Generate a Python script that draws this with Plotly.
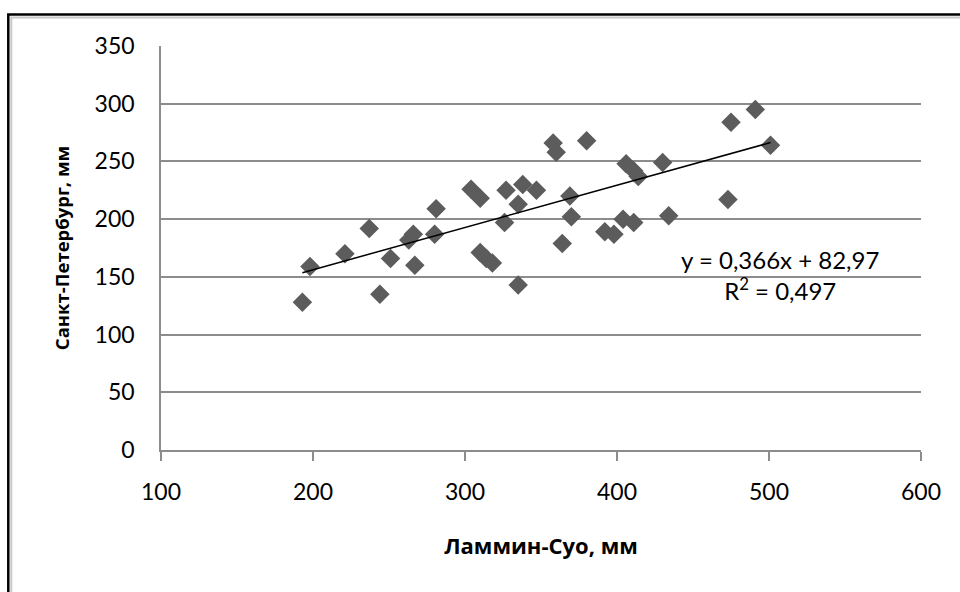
import plotly.graph_objects as go

# Data
lammin_suo = [193, 198, 221, 237, 244, 251, 263, 266, 267, 281, 280, 304, 310, 310, 314,
              318, 327, 326, 335, 335, 338, 347, 358, 360, 380, 369, 370, 364, 392, 398,
              404, 411, 406, 411, 414, 430, 434, 473, 475, 491, 501]
st_petersburg = [128, 159, 170, 192, 135, 166, 182, 187, 160, 209, 187, 226, 218, 171, 166,
                 162, 225, 197, 143, 213, 230, 225, 266, 258, 268, 220, 202, 179, 189, 187,
                 200, 197, 248, 242, 237, 249, 203, 217, 284, 295, 264]

slope = 0.366
intercept = 82.97
r_squared = 0.497
x_ticks = [100, 200, 300, 400, 500, 600]
y_ticks = [0, 50, 100, 150, 200, 250, 300, 350]

x_title = "Ламмин-Суо, мм"
y_title = "Санкт-Петербург, мм"
eq_text = "y = 0,366x + 82,97<br>R<sup>2</sup> = 0,497"

x_min, x_max = min(lammin_suo), max(lammin_suo)
trend_x = [x_min, x_max]
trend_y = [slope * v + intercept for v in trend_x]

FONT = "Lato, 'Open Sans', sans-serif"
TITLE_FONT = "'Open Sans', 'Noto Sans', sans-serif"

W, H = 960, 592
L, T = 160.7, 45.5
PW, PH = 760, 404.5

fig = go.Figure()
fig.add_trace(go.Scatter(
    x=lammin_suo, y=st_petersburg, mode="markers",
    marker=dict(symbol="diamond", size=15, color="#5c5c5c", line=dict(width=0)),
    showlegend=False, hoverinfo="x+y"))
fig.add_trace(go.Scatter(
    x=trend_x, y=trend_y, mode="lines",
    line=dict(color="black", width=1.5), showlegend=False, hoverinfo="skip"))

fig.add_annotation(x=507.5, y=151.4, xref="x", yref="y", text=eq_text, showarrow=False,
                   align="center", font=dict(family=FONT, size=24, color="#000000"))

# outer double frame (only top and left visible in reference)
fig.add_shape(type="rect", xref="paper", yref="paper",
              x0=(8 - L) / PW, x1=1.2, y0=-0.5, y1=(450 - 14) / PH,
              line=dict(color="black", width=2.5), layer="below")
fig.add_shape(type="rect", xref="paper", yref="paper",
              x0=(11 - L) / PW, x1=1.2, y0=-0.5, y1=(450 - 17) / PH,
              line=dict(color="#c8c8c8", width=2), layer="below")

fig.update_layout(
    width=W, height=H,
    margin=dict(l=L, r=W - L - PW, t=T, b=H - T - PH, autoexpand=False),
    paper_bgcolor="white", plot_bgcolor="white",
    font=dict(family=FONT, size=23, color="black"),
    xaxis=dict(range=[100, 600], tickvals=x_ticks, showgrid=False, zeroline=False,
               showline=True, linecolor="#8c8c8c", linewidth=1.5,
               ticks="outside", ticklen=9, tickcolor="#8c8c8c", tickwidth=1.5,
               ticklabelstandoff=12, automargin=False,
               title=dict(text=x_title, standoff=34,
                          font=dict(family=TITLE_FONT, size=22, weight="bold"))),
    yaxis=dict(range=[0, 350], tickvals=y_ticks, showgrid=True, gridcolor="#8c8c8c",
               gridwidth=1.5, zeroline=False,
               showline=True, linecolor="#8c8c8c", linewidth=1.5,
               ticks="", ticklabelstandoff=20, automargin=False,
               title=dict(text=y_title, standoff=20,
                          font=dict(family=TITLE_FONT, size=18.5, weight="bold"))),
)

fig.write_html(
    "out.html",
    config={"displayModeBar": False},
    post_script="document.body.style.margin='0';document.body.style.overflow='hidden';",
)
